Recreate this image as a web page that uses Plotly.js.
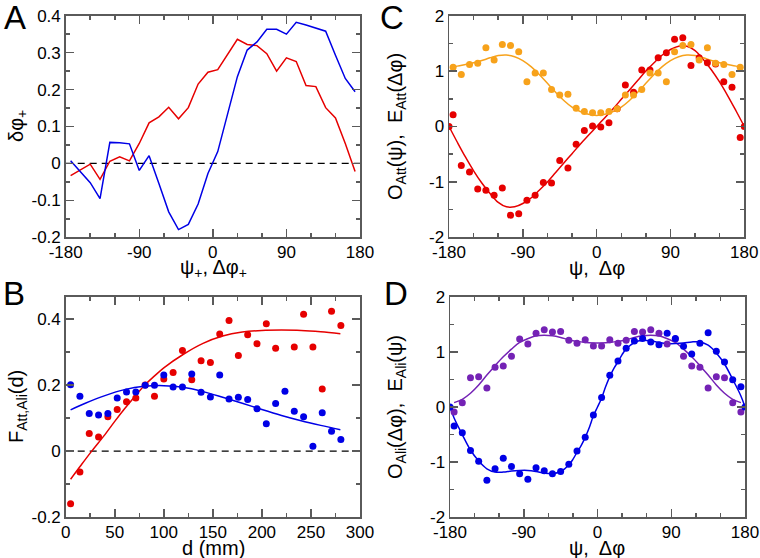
<!DOCTYPE html>
<html>
<head>
<meta charset="utf-8">
<script src="https://cdn.plot.ly/plotly-3.0.1.min.js"></script>
<style>
  body { margin: 0; background: #fff; }
  #chart { width: 760px; height: 558px; }
</style>
</head>
<body>
<div id="chart"></div>
<script>
// ---- panel A : delta phi+ vs psi+, dphi+ ----
const angA = [-174, -162, -150, -138, -126, -114, -102, -90, -78, -66, -54, -42, -30, -18, -6,
              6, 18, 30, 42, 54, 66, 78, 90, 102, 114, 126, 138, 150, 162, 174];
const redA = [-0.033, -0.017, -0.002, -0.043, 0.006, 0.018, 0.007, 0.054, 0.11, 0.126, 0.152, 0.121, 0.151, 0.215, 0.247,
              0.254, 0.295, 0.336, 0.322, 0.319, 0.297, 0.25, 0.286, 0.276, 0.211, 0.208, 0.151, 0.123, 0.054, -0.022];
const blueA = [0.007, -0.022, -0.052, -0.095, 0.057, 0.056, 0.053, -0.019, 0.021, -0.054, -0.131, -0.179, -0.165, -0.11, -0.027,
               0.032, 0.132, 0.235, 0.307, 0.329, 0.363, 0.363, 0.35, 0.382, 0.375, 0.367, 0.358, 0.293, 0.23, 0.194];

// ---- panel B : F(d) ----
const distB = [5, 14.5, 24, 33.5, 43, 52.5, 62, 71.5, 81, 90.5, 100, 109.5, 119, 128.5, 138,
               147.5, 157, 166.5, 176, 185.5, 195, 204.5, 214, 223.5, 233, 242.5, 252, 261.5, 271, 280.5];
const redB = [-0.159, -0.063, 0.053, 0.043, 0.104, 0.126, 0.149, 0.161, 0.2, 0.166, 0.218, 0.238, 0.304, 0.216, 0.273,
              0.268, 0.354, 0.395, 0.289, 0.352, 0.325, 0.385, 0.311, null, 0.315, 0.414, 0.315, 0.188, 0.423, 0.38];
const blueB = [0.201, 0.166, 0.114, 0.109, 0.114, 0.161, 0.179, 0.179, 0.199, 0.199, 0.23, 0.194, 0.194, 0.233, 0.178,
               0.164, 0.23, 0.158, 0.163, 0.156, 0.128, 0.083, 0.144, 0.181, 0.121, 0.104, 0.015, 0.116, 0.06, 0.035];
const redFitDistB = [5, 15, 26.5, 40, 50, 60, 70, 80, 90, 100, 120, 140, 160, 180, 200, 220, 240, 260, 280];
const redFitB = [-0.085, -0.045, 0, 0.05, 0.09, 0.128, 0.164, 0.198, 0.226, 0.252, 0.293, 0.326, 0.348, 0.36, 0.365, 0.366, 0.365, 0.361, 0.355];
const blueFitDistB = [5, 20, 40, 60, 80, 100, 120, 140, 160, 180, 200, 220, 240, 260, 280];
const blueFitB = [0.125, 0.145, 0.168, 0.186, 0.196, 0.198, 0.193, 0.18, 0.163, 0.145, 0.126, 0.108, 0.092, 0.078, 0.065];

// ---- panel C : O_Att(psi), E_Att(dphi) ----
const angC = [-180, -175, -165, -155, -145, -135, -125, -115, -105, -95, -85, -75, -65, -55, -45, -35, -25, -15, -5,
              5, 15, 25, 35, 45, 55, 65, 75, 85, 95, 105, 115, 125, 135, 145, 155, 165, 175, 180];
const redC = [0, 0.21, -0.705, -0.82, -1.13, -1.15, -1.24, -1.11, -1.6, -1.575, -1.33, -1.24, -1.01, -1.02, -0.615, -0.75, -0.32, -0.07, 0.01,
              -0.01, 0.066, 0.32, 0.75, 0.62, 1.02, 1.02, 1.24, 1.33, 1.575, 1.6, 1.1, 1.24, 1.15, 1.13, 0.81, 0.71, -0.2, 0];
const angOrangeC = [-175, -165, -155, -145, -135, -125, -115, -105, -95, -85, -75, -65, -55, -45, -35, -25, -15, -5,
                    5, 15, 25, 35, 45, 55, 65, 75, 85, 95, 105, 115, 125, 135, 145, 155, 165, 175];
const orangeC = [1.07, 0.94, 1.12, 1.14, 1.42, 1.2, 1.48, 1.46, 1.35, 0.81, 0.965, 0.965, 0.67, 0.57, 0.58, 0.33, 0.27, 0.25,
                 0.25, 0.27, 0.32, 0.57, 0.57, 0.67, 0.965, 0.965, 0.81, 1.35, 1.46, 1.48, 1.2, 1.42, 1.14, 1.12, 0.94, 1.07];
const fitAngC = [-180, -170, -160, -150, -140, -130, -120, -110, -100, -90, -80, -70, -60, -50, -40, -30, -20, -10, 0,
                 10, 20, 30, 40, 50, 60, 70, 80, 90, 100, 110, 120, 130, 140, 150, 160, 170, 180];
const redFitC = [0, -0.28, -0.55, -0.8, -1.02, -1.21, -1.37, -1.45, -1.45, -1.39, -1.29, -1.15, -1.0, -0.83, -0.66, -0.49, -0.32, -0.16, 0,
                 0.16, 0.32, 0.49, 0.66, 0.83, 1.0, 1.15, 1.29, 1.39, 1.45, 1.45, 1.37, 1.21, 1.02, 0.8, 0.55, 0.28, 0];
const fitAngOrangeC = [-176, -170, -160, -150, -140, -130, -120, -110, -100, -90, -80, -70, -60, -50, -40, -30, -20, -10, 0,
                       10, 20, 30, 40, 50, 60, 70, 80, 90, 100, 110, 120, 130, 140, 150, 160, 170, 176];
const orangeFitC = [1.07, 1.09, 1.12, 1.15, 1.19, 1.24, 1.28, 1.29, 1.26, 1.19, 1.08, 0.94, 0.78, 0.62, 0.47, 0.35, 0.27, 0.22, 0.2,
                    0.22, 0.27, 0.35, 0.47, 0.62, 0.78, 0.94, 1.08, 1.19, 1.26, 1.29, 1.28, 1.24, 1.19, 1.15, 1.12, 1.09, 1.07];

// ---- panel D : O_Ali(dphi), E_Ali(psi) ----
const angD = [-180, -175, -165, -155, -145, -135, -125, -115, -105, -95, -85, -75, -65, -55, -45, -35, -25, -15, -5,
              5, 15, 25, 35, 45, 55, 65, 75, 85, 95, 105, 115, 125, 135, 145, 155, 165, 175, 180];
const blueD = [0, -0.345, -0.466, -0.79, -0.985, -1.33, -1.12, -0.93, -1.08, -1.21, -1.31, -1.1, -1.155, -1.21, -1.17, -1.04, -0.8, -0.55, -0.145,
               0.17, 0.574, 0.834, 1.064, 1.197, 1.24, 1.18, 1.13, 1.336, 1.24, 1.1, 0.96, 1.155, 1.347, 1.01, 0.816, 0.495, 0.368, 0];
const angPurpleD = [-175, -165, -155, -145, -135, -125, -115, -105, -95, -85, -75, -65, -55, -45, -35, -25, -15, -5,
                    5, 15, 25, 35, 45, 55, 65, 75, 85, 95, 105, 115, 125, 135, 145, 155, 165, 175];
const purpleD = [-0.09, 0.078, 0.53, 0.55, 0.345, 0.72, 0.743, 0.92, 1.233, 1.142, 1.336, 1.4, 1.36, 1.37, 1.21, 1.155, 1.22, 1.106,
                 1.106, 1.22, 1.155, 1.21, 1.37, 1.36, 1.4, 1.336, 1.142, 1.233, 0.92, 0.743, 0.72, 0.345, 0.55, 0.53, 0.078, -0.09];
const fitAngBlueD = [-180, -175, -165, -155, -145, -135, -125, -115, -105, -95, -85, -75, -65, -55, -45, -35, -30, -25, -20, -15, -10, -5, 0,
                     5, 10, 15, 20, 25, 30, 35, 45, 55, 65, 75, 85, 95, 105, 115, 125, 135, 145, 155, 165, 175, 180];
const blueFitD = [0, -0.2, -0.5, -0.78, -0.98, -1.12, -1.18, -1.18, -1.16, -1.15, -1.15, -1.17, -1.2, -1.21, -1.17, -1.05, -0.95, -0.82, -0.7, -0.55, -0.37, -0.16, 0,
                  0.16, 0.37, 0.55, 0.7, 0.82, 0.95, 1.05, 1.17, 1.21, 1.2, 1.17, 1.15, 1.15, 1.16, 1.18, 1.18, 1.12, 0.98, 0.78, 0.5, 0.2, 0];
const fitAngPurpleD = [-175, -165, -155, -145, -135, -125, -115, -105, -95, -85, -75, -65, -55, -45, -35, -25, -15, -5,
                       5, 15, 25, 35, 45, 55, 65, 75, 85, 95, 105, 115, 125, 135, 145, 155, 165, 175];
const purpleFitD = [0.08, 0.14, 0.25, 0.4, 0.58, 0.75, 0.91, 1.05, 1.17, 1.24, 1.29, 1.3, 1.29, 1.26, 1.22, 1.19, 1.17, 1.16,
                    1.16, 1.17, 1.19, 1.22, 1.26, 1.29, 1.3, 1.29, 1.24, 1.17, 1.05, 0.91, 0.75, 0.58, 0.4, 0.25, 0.14, 0.08];

// tick labels
const angTicks = [-180, -90, 0, 90, 180];
const angTickText = ['-180', '-90', '0', '90', '180'];
const yTicksA = [-0.2, -0.1, 0, 0.1, 0.2, 0.3, 0.4];
const yTickTextA = ['-0.2', '-0.1', '0', '0.1', '0.2', '0.3', '0.4'];
const xTicksB = [0, 50, 100, 150, 200, 250, 300];
const xTickTextB = ['0', '50', '100', '150', '200', '250', '300'];
const yTicksB = [-0.2, 0, 0.2, 0.4];
const yTickTextB = ['-0.2', '0', '0.2', '0.4'];
const yTicksCD = [-2, -1, 0, 1, 2];
const yTickTextCD = ['-2', '-1', '0', '1', '2'];

const zeroAngX = [-180, 180];
const zeroDistX = [0, 300];
const zeroY = [0, 0];

const RED = '#e60000', BLUE = '#0000e6', ORANGE = '#f7a21b', PURPLE = '#7422b5';
const FONT = 'Liberation Sans, Arial, Helvetica, sans-serif';
const W = 760, H = 558;

function line(x, y, color, xa, ya, extra) {
    return Object.assign({ x: x, y: y, xaxis: xa, yaxis: ya, type: 'scatter', mode: 'lines',
        line: { color: color, width: 1.5 }, hoverinfo: 'skip', showlegend: false }, extra || {});
}
function dots(x, y, color, xa, ya) {
    return { x: x, y: y, xaxis: xa, yaxis: ya, type: 'scatter', mode: 'markers',
        marker: { color: color, size: 7 }, hoverinfo: 'skip', showlegend: false };
}

const traces = [
    // A
    line(zeroAngX, zeroY, '#000', 'x', 'y', { line: { color: '#000', width: 1.2, dash: '7px,5px' } }),
    line(angA, redA, RED, 'x', 'y'),
    line(angA, blueA, BLUE, 'x', 'y'),
    // B
    line(zeroDistX, zeroY, '#000', 'x2', 'y2', { line: { color: '#000', width: 1.2, dash: '7px,5px' } }),
    line(redFitDistB, redFitB, RED, 'x2', 'y2', { line: { color: RED, width: 1.5, shape: 'spline' } }),
    line(blueFitDistB, blueFitB, BLUE, 'x2', 'y2', { line: { color: BLUE, width: 1.5, shape: 'spline' } }),
    dots(distB, redB, RED, 'x2', 'y2'),
    dots(distB, blueB, BLUE, 'x2', 'y2'),
    // C
    line(fitAngC, redFitC, RED, 'x3', 'y3', { line: { color: RED, width: 1.5, shape: 'spline' } }),
    line(fitAngOrangeC, orangeFitC, ORANGE, 'x3', 'y3', { line: { color: ORANGE, width: 1.5, shape: 'spline' } }),
    dots(angC, redC, RED, 'x3', 'y3'),
    dots(angOrangeC, orangeC, ORANGE, 'x3', 'y3'),
    // D
    line(fitAngPurpleD, purpleFitD, PURPLE, 'x4', 'y4', { line: { color: PURPLE, width: 1.5, shape: 'spline' } }),
    line(fitAngBlueD, blueFitD, BLUE, 'x4', 'y4', { line: { color: BLUE, width: 1.5, shape: 'spline' } }),
    dots(angPurpleD, purpleD, PURPLE, 'x4', 'y4'),
    dots(angD, blueD, BLUE, 'x4', 'y4')
];

// axis frame in the xmgrace style: box, ticks inside on all sides
function axis(left, right, range, vals, text, minorStep, anchor, vertical) {
    const dom = vertical ? [1 - right / H, 1 - left / H] : [left / W, right / W];
    return {
        domain: dom, range: range, anchor: anchor, autorange: false,
        tickmode: 'array', tickvals: vals, ticktext: text,
        ticks: 'inside', ticklen: 8, tickwidth: 1.5, tickcolor: '#5a5a5a',
        ticklabelstandoff: vertical ? 0 : -1,
        minor: { ticks: 'inside', ticklen: 4, tickwidth: 1.5, tickcolor: '#5a5a5a', tickmode: 'linear',
                 tick0: range[0], dtick: minorStep, showgrid: false },
        showline: true, linecolor: '#5a5a5a', linewidth: 1.5, mirror: 'allticks',
        showgrid: false, zeroline: false, automargin: false,
        tickfont: { family: FONT, size: 17, color: '#000' }, fixedrange: true
    };
}

const titleFont = { family: FONT, size: 20, color: '#000' };
const letterFont = { family: FONT, size: 33, color: '#000' };
function label(text, px, py, angle, font) {
    return { text: text, x: px / W, y: 1 - py / H, xref: 'paper', yref: 'paper', showarrow: false,
             textangle: angle || 0, font: font || titleFont, xanchor: 'center', yanchor: 'middle' };
}

const layout = {
    width: W, height: H,
    margin: { l: 0, r: 0, t: 0, b: 0 },
    paper_bgcolor: '#fff', plot_bgcolor: '#fff',
    showlegend: false,
    xaxis: axis(65.7, 360, [-180, 180], angTicks, angTickText, 30, 'y'),
    yaxis: axis(15.7, 237.3, [-0.2, 0.4], yTicksA, yTickTextA, 0.05, 'x', true),
    xaxis2: axis(65.7, 360, [0, 300], xTicksB, xTickTextB, 25, 'y2'),
    yaxis2: axis(296.7, 517.3, [-0.2, 0.467], yTicksB, yTickTextB, 0.1, 'x2', true),
    xaxis3: axis(449, 744.3, [-180, 180], angTicks, angTickText, 30, 'y3'),
    yaxis3: axis(15.7, 237.3, [-2, 2], yTicksCD, yTickTextCD, 0.5, 'x3', true),
    xaxis4: axis(450, 745, [-180, 180], angTicks, angTickText, 30, 'y4'),
    yaxis4: axis(296.7, 517.3, [-2, 2], yTicksCD, yTickTextCD, 0.5, 'x4', true),
    annotations: [
        label('A', 15, 17, 0, letterFont),
        label('C', 392, 17, 0, letterFont),
        label('B', 14, 293, 0, letterFont),
        label('D', 396, 293, 0, letterFont),
        label('ψ<sub>+</sub>, Δφ<sub>+</sub>', 213, 269),
        label('δφ<sub>+</sub>', 17, 126, -90),
        label('ψ,  Δφ', 597, 268),
        label('O<sub>Att</sub>(ψ),  E<sub>Att</sub>(Δφ)', 396, 126, -90),
        label('d (mm)', 213, 548),
        label('F<sub>Att,Ali</sub>(d)', 17, 407, -90),
        label('ψ,  Δφ', 597, 548),
        label('O<sub>Ali</sub>(Δφ),  E<sub>Ali</sub>(ψ)', 396, 407, -90)
    ]
};

Plotly.newPlot('chart', traces, layout, { staticPlot: true, displayModeBar: false });
</script>
</body>
</html>
